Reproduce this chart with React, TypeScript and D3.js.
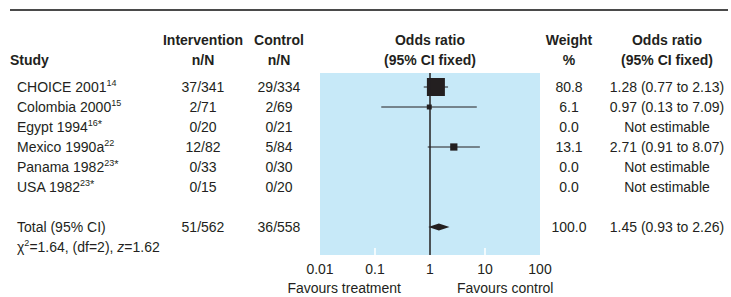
import React from 'react'
import * as d3 from 'd3'

const STUDIES = ['CHOICE 2001', 'Colombia 2000', 'Egypt 1994', 'Mexico 1990a', 'Panama 1982', 'USA 1982']
const REFS = ['14', '15', '16', '22', '23', '23']
const STARRED = [false, false, true, false, true, true]
const INTERVENTION = ['37/341', '2/71', '0/20', '12/82', '0/33', '0/15']
const CONTROL = ['29/334', '2/69', '0/21', '5/84', '0/30', '0/20']
const WEIGHTS = [80.8, 6.1, 0.0, 13.1, 0.0, 0.0]
const ODDS = [1.28, 0.97, null, 2.71, null, null]
const LOWER = [0.77, 0.13, null, 0.91, null, null]
const UPPER = [2.13, 7.09, null, 8.07, null, null]

const TOTAL = { label: 'Total (95% CI)', intervention: '51/562', control: '36/558', weight: 100.0, or: 1.45, lo: 0.93, hi: 2.26 }
const TICKS = [0.01, 0.1, 1, 10, 100]

const W = 731
const H = 297
const INK = '#231f20'
const PANEL = '#c7e9f8'
const FONT = '"Liberation Sans", Arial, sans-serif'
const FS = 14

const fmtCI = (o: number, l: number, h: number) =>
  `${o.toFixed(2)} (${l.toFixed(2)} to ${h.toFixed(2)})`

export default function App() {
  // log scale for odds ratio, linear scale for row index
  const x = d3.scaleLog().domain([0.01, 100]).range([320, 540])
  const y = d3.scaleLinear().domain([0, 1]).range([87, 107])
  const side = d3.scaleSqrt().domain([0, 80.8]).range([0, 18])

  const col = { study: 10, label: 17, inter: 203, ctrl: 279, weight: 569, ci: 667 }
  const head1 = 44.5
  const head2 = 64.5
  const base = (i: number) => y(i) + 5
  const totalIdx = 7

  const panelTop = y(-0.7)
  const panelBot = y(8.4)

  return (
    <svg width={W} height={H} style={{ position: 'absolute', left: 0, top: 0, background: '#fff' }}
      fontFamily={FONT} fontSize={FS} fill={INK}>
      <line x1={10} x2={728} y1={10} y2={10} stroke="#4a4a4a" strokeWidth={2} />

      {/* headers */}
      <g fontWeight="bold">
        <text x={col.study} y={head2}>Study</text>
        <text x={col.inter} y={head1} textAnchor="middle">Intervention</text>
        <text x={col.inter} y={head2} textAnchor="middle">n/N</text>
        <text x={col.ctrl} y={head1} textAnchor="middle">Control</text>
        <text x={col.ctrl} y={head2} textAnchor="middle">n/N</text>
        <text x={x(1)} y={head1} textAnchor="middle">Odds ratio</text>
        <text x={x(1)} y={head2} textAnchor="middle">(95% CI fixed)</text>
        <text x={col.weight} y={head1} textAnchor="middle">Weight</text>
        <text x={col.weight} y={head2} textAnchor="middle">%</text>
        <text x={col.ci} y={head1} textAnchor="middle">Odds ratio</text>
        <text x={col.ci} y={head2} textAnchor="middle">(95% CI fixed)</text>
      </g>

      {/* plot panel */}
      <rect x={x(0.01)} y={panelTop} width={x(100) - x(0.01)} height={panelBot - panelTop} fill={PANEL} />
      {[0.1, 10].map(t => (
        <line key={t} x1={x(t)} x2={x(t)} y1={panelBot - 7} y2={panelBot} stroke="#fff" strokeWidth={1.5} />
      ))}

      {/* study rows */}
      {STUDIES.map((s, i) => (
        <g key={s}>
          <text x={col.label} y={base(i)}>
            {s}
            <tspan fontSize={9} dy={-6}>{REFS[i]}</tspan>
            {STARRED[i] && <tspan fontSize={11} dy={2}>*</tspan>}
          </text>
          <text x={col.inter} y={base(i)} textAnchor="middle">{INTERVENTION[i]}</text>
          <text x={col.ctrl} y={base(i)} textAnchor="middle">{CONTROL[i]}</text>
          <text x={col.weight} y={base(i)} textAnchor="middle">{WEIGHTS[i].toFixed(1)}</text>
          <text x={col.ci} y={base(i)} textAnchor="middle">
            {ODDS[i] == null ? 'Not estimable' : fmtCI(ODDS[i] as number, LOWER[i] as number, UPPER[i] as number)}
          </text>
          {ODDS[i] != null && (
            <g>
              <line x1={x(LOWER[i] as number)} x2={x(UPPER[i] as number)} y1={y(i)} y2={y(i)} stroke={INK} strokeWidth={1} />
              <rect
                x={x(ODDS[i] as number) - side(WEIGHTS[i]) / 2}
                y={y(i) - side(WEIGHTS[i]) / 2}
                width={side(WEIGHTS[i])}
                height={side(WEIGHTS[i])}
                fill={INK}
              />
            </g>
          )}
        </g>
      ))}

      {/* total */}
      <text x={col.label} y={base(totalIdx)}>{TOTAL.label}</text>
      <text x={col.inter} y={base(totalIdx)} textAnchor="middle">{TOTAL.intervention}</text>
      <text x={col.ctrl} y={base(totalIdx)} textAnchor="middle">{TOTAL.control}</text>
      <text x={col.weight} y={base(totalIdx)} textAnchor="middle">{TOTAL.weight.toFixed(1)}</text>
      <text x={col.ci} y={base(totalIdx)} textAnchor="middle">{fmtCI(TOTAL.or, TOTAL.lo, TOTAL.hi)}</text>
      <path
        d={`M${x(TOTAL.lo)},${y(totalIdx)} L${x(TOTAL.or)},${y(totalIdx) - 3.5} L${x(TOTAL.hi)},${y(totalIdx)} L${x(TOTAL.or)},${y(totalIdx) + 3.5} Z`}
        fill={INK}
      />
      <text x={col.label} y={base(totalIdx + 1)}>
        χ<tspan fontSize={9} dy={-6}>2</tspan><tspan dy={6}>=1.64, (df=2), </tspan>
        <tspan fontStyle="italic">z</tspan>=1.62
      </text>

      {/* line of no effect */}
      <line x1={x(1)} x2={x(1)} y1={panelTop} y2={panelBot} stroke={INK} strokeWidth={1.5} />

      {/* axis labels */}
      {TICKS.map(t => (
        <text key={t} x={x(t)} y={273.5} textAnchor="middle">{String(t)}</text>
      ))}
      <text x={x(1) - 29} y={292.5} textAnchor="end">Favours treatment</text>
      <text x={x(1) + 27} y={292.5}>Favours control</text>
    </svg>
  )
}
